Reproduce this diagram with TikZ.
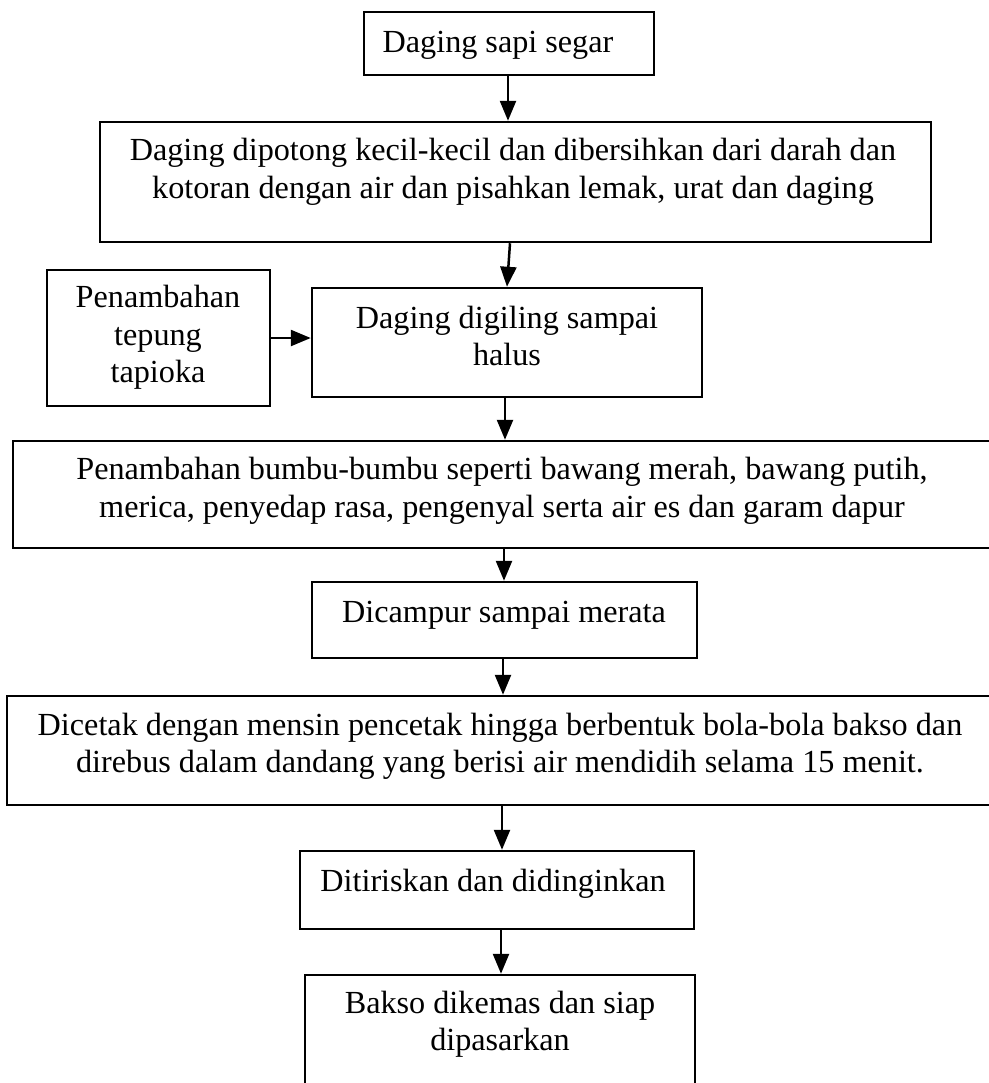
\documentclass[tikz,border=0pt]{standalone}
\usepackage{fontspec}
\setmainfont{Liberation Serif}
\usetikzlibrary{arrows.meta,fit}
\begin{document}
\begin{tikzpicture}[x=0.5pt,y=-0.5pt,
  box/.style={draw,line width=1.25pt,inner sep=0pt,rectangle},
  txt/.style={font=\fontsize{16.1}{19}\selectfont,inner sep=0pt,anchor=base},
  arr/.style={line width=1.25pt,-{Triangle[length=10pt,width=8pt]}}]
\clip (0,0) rectangle (989,1083);
\fill[white] (0,0) rectangle (989,1083);
% boxes
\node[box,fit={(364,12) (654,75)}] (b1) {};
\node[box,fit={(100,122) (931,242)}] (b2) {};
\node[box,fit={(47,270) (270,406)}] (b3) {};
\node[box,fit={(312,288) (702,397)}] (b4) {};
\node[box,fit={(13,441) (1010,548)}] (b5) {};
\node[box,fit={(312,582) (697,658)}] (b6) {};
\node[box,fit={(7,696) (1010,805)}] (b7) {};
\node[box,fit={(300,851) (694,929)}] (b8) {};
\node[box,fit={(305,975) (695,1110)}] (b9) {};
% texts
\node[txt] (t1) at (498,52) {Daging sapi segar};
\node[txt] (t2a) at (513,160) {Daging dipotong kecil-kecil dan dibersihkan dari darah dan};
\node[txt] (t2b) at (513,198) {kotoran dengan air dan pisahkan lemak, urat dan daging};
\node[txt] (t3a) at (158,307) {Penambahan};
\node[txt] (t3b) at (158,345) {tepung};
\node[txt] (t3c) at (158,382) {tapioka};
\node[txt] (t4a) at (507,328) {Daging digiling sampai};
\node[txt] (t4b) at (507,365) {halus};
\node[txt] (t5a) at (502,479) {Penambahan bumbu-bumbu seperti bawang merah, bawang putih,};
\node[txt] (t5b) at (502,517) {merica, penyedap rasa, pengenyal serta air es dan garam dapur};
\node[txt] (t6) at (504,622) {Dicampur sampai merata};
\node[txt] (t7a) at (500,735) {Dicetak dengan mensin pencetak hingga berbentuk bola-bola bakso dan};
\node[txt] (t7b) at (500,772) {direbus dalam dandang yang berisi air mendidih selama 15 menit.};
\node[txt] (t8) at (493,891) {Ditiriskan dan didinginkan};
\node[txt] (t9a) at (500,1013) {Bakso dikemas dan siap};
\node[txt] (t9b) at (500,1050) {dipasarkan};
% arrow positions
\coordinate (x1) at (508,0);
\coordinate (x2a) at (510,0);
\coordinate (x2b) at (507,0);
\coordinate (x4) at (505,0);
\coordinate (x5) at (504,0);
\coordinate (x6) at (503,0);
\coordinate (x7) at (502,0);
\coordinate (x8) at (501,0);
\coordinate (y3) at (0,338);
% connectors
\draw[arr] (b1.south -| x1) -- (b2.north -| x1);
\draw[arr] (b2.south -| x2a) -- (b4.north -| x2b);
\draw[arr] (b3.east |- y3) -- (b4.west |- y3);
\draw[arr] (b4.south -| x4) -- (b5.north -| x4);
\draw[arr] (b5.south -| x5) -- (b6.north -| x5);
\draw[arr] (b6.south -| x6) -- (b7.north -| x6);
\draw[arr] (b7.south -| x7) -- (b8.north -| x7);
\draw[arr] (b8.south -| x8) -- (b9.north -| x8);
\end{tikzpicture}
\end{document}
